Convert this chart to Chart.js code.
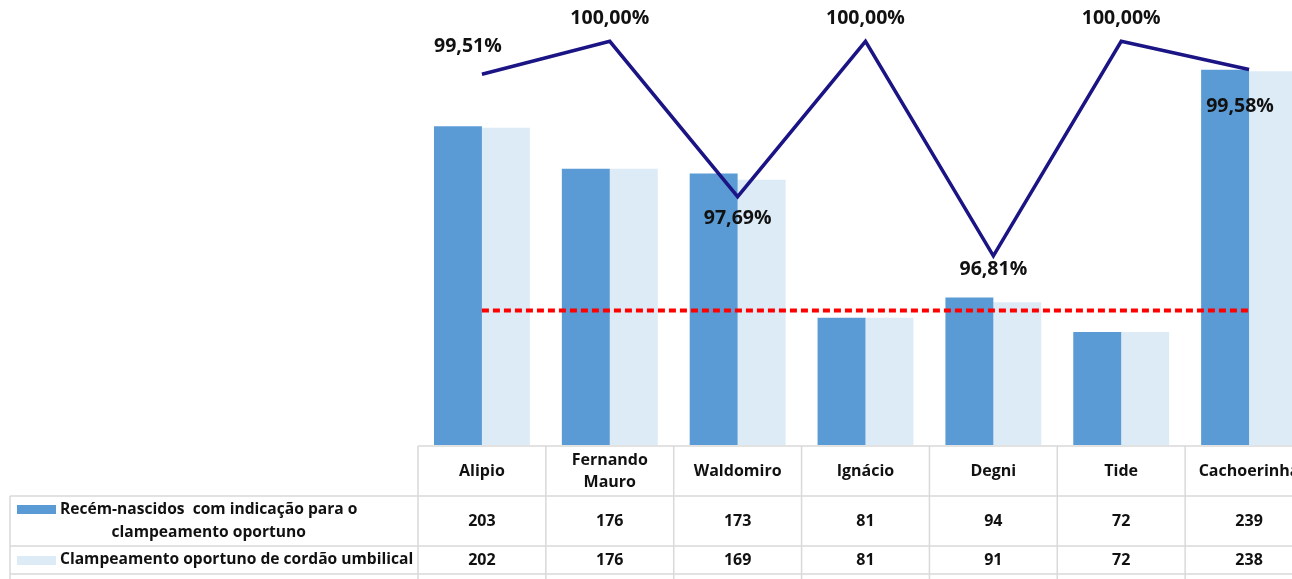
<!DOCTYPE html>
<html>
<head>
<meta charset="utf-8">
<script src="https://cdn.jsdelivr.net/npm/chart.js@4.4.1/dist/chart.umd.min.js"></script>
<style>
  html, body { margin: 0; padding: 0; background: #fff; overflow: hidden; width: 1292px; height: 579px; }
  #wrap { position: absolute; left: 0; top: -26px; width: 1314px; height: 605px; }
</style>
</head>
<body>
<div id="wrap"><canvas id="chart" width="1314" height="605"></canvas></div>
<script>
var categories = ['Alipio', ['Fernando', 'Mauro'], 'Waldomiro', 'Ignácio', 'Degni', 'Tide', 'Cachoerinha'];
var indicados = [203, 176, 173, 81, 94, 72, 239];
var clampeados = [202, 176, 169, 81, 91, 72, 238];
var percentual = [99.51, 100.00, 97.69, 100.00, 96.81, 100.00, 99.58];
var meta = [96, 96, 96, 96, 96, 96, 96];
var seriesNames = [['Recém-nascidos  com indicação para o', 'clampeamento oportuno'], ['Clampeamento oportuno de cordão umbilical']];

// where each percent label sits relative to its point [dx, dy]
var labelOffsets = [[-14, -28], [0, -23], [0, 22], [0, -23], [0, 14], [0, -23], [-9, 37]];

var FONT = '"Open Sans", Lato, sans-serif';

function fmtPct(v) {
    return v.toFixed(2).replace('.', ',') + '%';
}

var lineLabels = {
    id: 'lineLabels',
    afterDatasetsDraw: function (chart) {
        var ctx = chart.ctx;
        var meta2 = chart.getDatasetMeta(2);
        ctx.save();
        ctx.font = 'bold 19.5px ' + FONT;
        ctx.fillStyle = '#111';
        ctx.textAlign = 'center';
        ctx.textBaseline = 'middle';
        meta2.data.forEach(function (pt, i) {
            var o = labelOffsets[i];
            ctx.fillText(fmtPct(percentual[i]), pt.x + o[0], pt.y + o[1]);
        });
        ctx.restore();
    }
};

var dataTable = {
    id: 'dataTable',
    afterDraw: function (chart) {
        var ctx = chart.ctx;
        var x = chart.scales.x;
        var area = chart.chartArea;
        var n = categories.length;
        var w = (area.right - area.left) / n;
        var top = area.bottom + 1;
        var r1 = top + 50, r2 = top + 100, r3 = top + 128, end = 605;
        var leftEdge = 10;

        ctx.save();
        ctx.strokeStyle = '#d9d9d9';
        ctx.lineWidth = 1.5;
        ctx.beginPath();
        ctx.moveTo(area.left, top); ctx.lineTo(area.right, top);
        [r1, r2, r3].forEach(function (y) {
            ctx.moveTo(leftEdge, y); ctx.lineTo(area.right, y);
        });
        ctx.moveTo(leftEdge, r1); ctx.lineTo(leftEdge, end);
        for (var i = 0; i <= n; i++) {
            var bx = area.left + i * w;
            ctx.moveTo(bx, top); ctx.lineTo(bx, end);
        }
        ctx.stroke();

        ctx.fillStyle = '#111';
        ctx.textAlign = 'center';
        ctx.textBaseline = 'middle';
        ctx.font = 'bold 16px ' + FONT;
        categories.forEach(function (c, i) {
            var cx = x.getPixelForValue(i);
            if (Array.isArray(c)) {
                ctx.fillText(c[0], cx, top + 14);
                ctx.fillText(c[1], cx, top + 36);
            } else {
                ctx.fillText(c, cx, top + 25);
            }
            ctx.fillText(String(indicados[i]), cx, r1 + 25);
            ctx.fillText(String(clampeados[i]), cx, r2 + 14);
        });

        // series legend cells
        ctx.fillStyle = '#5b9bd5';
        ctx.fillRect(17, r1 + 9, 39, 9);
        ctx.fillStyle = '#ddebf7';
        ctx.fillRect(17, r2 + 10, 39, 9);

        ctx.fillStyle = '#111';
        ctx.font = 'bold 15.6px ' + FONT;
        var w0 = ctx.measureText(seriesNames[0][0]).width;
        var c0 = 60 + w0 / 2;
        ctx.fillText(seriesNames[0][0], c0, r1 + 14);
        ctx.fillText(seriesNames[0][1], c0, r1 + 37);
        ctx.textAlign = 'left';
        ctx.fillText(seriesNames[1][0], 60, r2 + 14);
        ctx.restore();
    }
};

var ctx = document.getElementById('chart').getContext('2d');
var chart = new Chart(ctx, {
    data: {
        labels: categories,
        datasets: [{
            type: 'bar',
            label: seriesNames[0].join(' '),
            data: indicados,
            backgroundColor: '#5b9bd5',
            yAxisID: 'y',
            order: 3
        }, {
            type: 'bar',
            label: seriesNames[1][0],
            data: clampeados,
            backgroundColor: '#ddebf7',
            yAxisID: 'y',
            order: 3
        }, {
            type: 'line',
            label: 'Percentual',
            data: percentual,
            borderColor: '#1b1485',
            borderWidth: 3.5,
            pointRadius: 0,
            tension: 0,
            yAxisID: 'y2',
            order: 1
        }, {
            type: 'line',
            label: 'Meta',
            data: meta,
            borderColor: '#ff0000',
            borderWidth: 4,
            borderDash: [7, 4],
            pointRadius: 0,
            yAxisID: 'y2',
            order: 2
        }]
    },
    options: {
        responsive: false,
        animation: false,
        layout: { padding: { left: 418, right: 1, top: 0, bottom: 134 } },
        datasets: { bar: { categoryPercentage: 0.75, barPercentage: 1.0 } },
        plugins: { legend: { display: false }, tooltip: { enabled: false } },
        scales: {
            x: { display: false },
            y: { display: false, min: 0, max: 300 },
            y2: { display: false, min: 94, max: 101 }
        }
    },
    plugins: [lineLabels, dataTable]
});
</script>
</body>
</html>
